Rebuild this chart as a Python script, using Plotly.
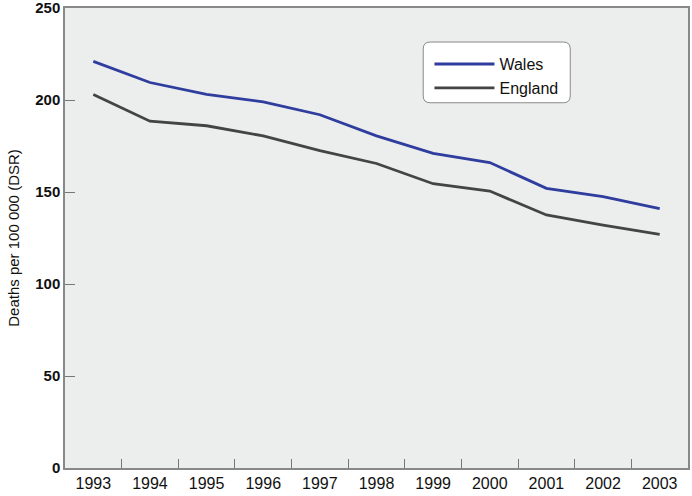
import plotly.graph_objects as go

# 年次とデータ
years = ["1993", "1994", "1995", "1996", "1997", "1998",
         "1999", "2000", "2001", "2002", "2003"]
wales = [221, 209.5, 203, 199, 192, 180.5, 171, 166, 152, 147.5, 141]
england = [203, 188.5, 186, 180.5, 172.5, 165.5, 154.5, 150.5, 137.5, 132, 127]
y_ticks = [0, 50, 100, 150, 200, 250]

FONT = "Liberation Sans, Arial, sans-serif"


def rounded_box(x0, y0, x1, y1, rx, ry):
    """角丸の四角形パス（paper座標）"""
    return (f"M{x0 + rx},{y0} L{x1 - rx},{y0} Q{x1},{y0} {x1},{y0 + ry} "
            f"L{x1},{y1 - ry} Q{x1},{y1} {x1 - rx},{y1} "
            f"L{x0 + rx},{y1} Q{x0},{y1} {x0},{y1 - ry} "
            f"L{x0},{y0 + ry} Q{x0},{y0} {x0 + rx},{y0} Z")


fig = go.Figure()

fig.add_trace(go.Scatter(
    x=years, y=wales, mode="lines", name="Wales",
    line=dict(color="#2f3d9e", width=2.8),
))
fig.add_trace(go.Scatter(
    x=years, y=england, mode="lines", name="England",
    line=dict(color="#444444", width=2.8),
))

# 凡例の角丸枠
fig.add_shape(
    type="path", xref="paper", yref="paper",
    path=rounded_box(0.575, 0.794, 0.811, 0.926, 0.011, 0.015),
    fillcolor="white", line=dict(color="#8a8a8a", width=1), layer="below",
)

fig.update_layout(
    width=692,
    height=496,
    margin=dict(l=65, r=4, t=8, b=28),
    paper_bgcolor="white",
    plot_bgcolor="#eceded",
    font=dict(family=FONT, color="#111111"),
    showlegend=True,
    legend=dict(
        x=0.585, y=0.915, xanchor="left", yanchor="top",
        bgcolor="rgba(0,0,0,0)", borderwidth=0,
        font=dict(size=16, color="#111111"),
        itemwidth=60,
        tracegroupgap=6,
    ),
)

fig.update_xaxes(
    type="category",
    range=[-0.5, 10.5],
    tickson="boundaries",
    ticks="inside",
    ticklen=9,
    tickcolor="#777777",
    tickwidth=1,
    showgrid=False,
    showline=True,
    linecolor="#888888",
    linewidth=1.5,
    mirror=True,
    automargin=False,
    tickfont=dict(size=16, color="#111111"),
)

fig.update_yaxes(
    range=[0, 250],
    tickvals=y_ticks,
    ticks="inside",
    ticklen=10,
    tickcolor="#777777",
    tickwidth=1,
    showgrid=False,
    zeroline=False,
    showline=True,
    linecolor="#888888",
    linewidth=1.5,
    mirror=True,
    automargin=False,
    ticklabeloverflow="allow",
    tickfont=dict(size=15, color="#111111", weight="bold"),
    title=dict(text="Deaths per 100 000 (DSR)", font=dict(size=15, color="#111111"),
               standoff=12),
)

# ページ余白をなくして図を左上に合わせる
fig.write_html("out.html", config={"displayModeBar": False},
               post_script="document.body.style.margin='0';")
